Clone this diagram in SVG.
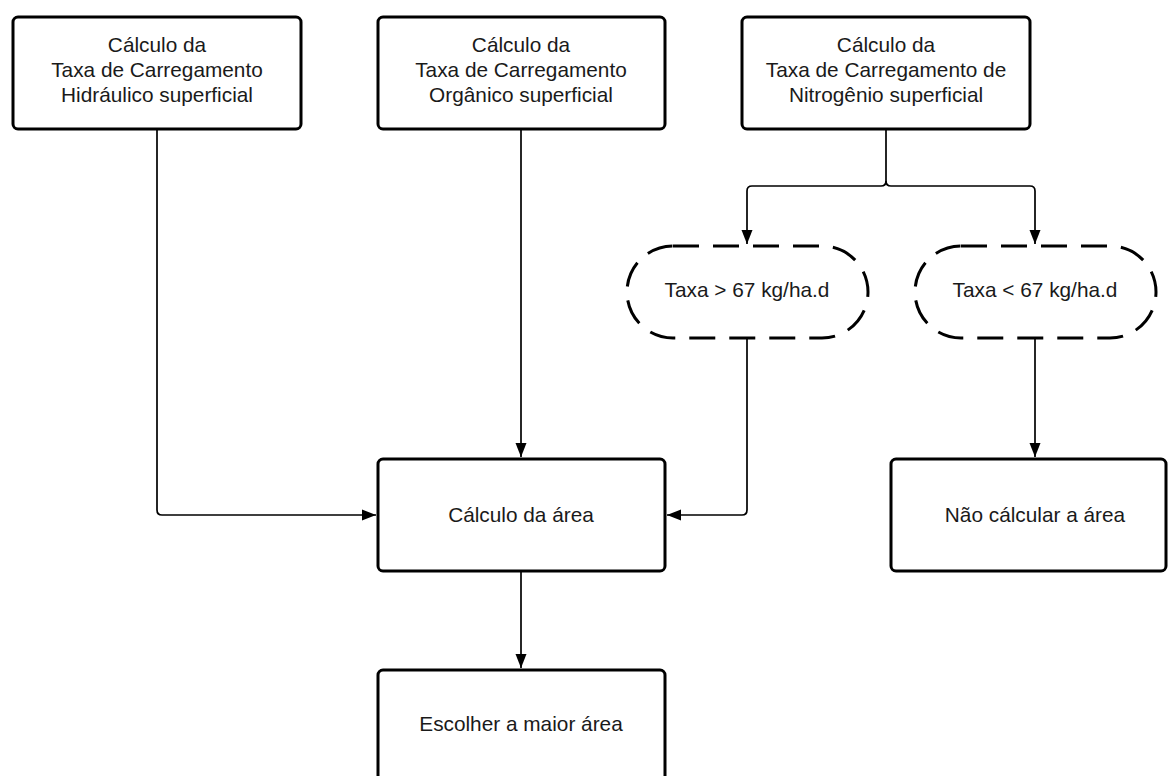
<svg xmlns="http://www.w3.org/2000/svg" width="1168" height="776" viewBox="0 0 1168 776">
<style>
.box{fill:#fff;stroke:#000;stroke-width:3}
.dash{fill:#fff;stroke:#000;stroke-width:3;stroke-dasharray:26 14}
.t{font-family:"Liberation Sans",Arial,sans-serif;font-size:20.8px;fill:#1a1a1a;text-anchor:middle}
.c{fill:none;stroke:#000;stroke-width:1.7}
</style>
<defs>
<marker id="ah" markerWidth="14" markerHeight="14" viewBox="0 0 14 14" refX="14" refY="7" orient="auto" markerUnits="userSpaceOnUse">
<path d="M0,1.5 L14,7 L0,12.5 Z" fill="#000"/>
</marker>
</defs>
<rect width="1168" height="776" fill="#fff"/>
<g id="connectors">
<path class="c" d="M157,129 V510 Q157,515 162,515 H376" marker-end="url(#ah)"/>
<path class="c" d="M521,129 V457" marker-end="url(#ah)"/>
<path class="c" d="M886,129 V181 Q886,186 881,186 H752 Q747,186 747,191 V244" marker-end="url(#ah)"/>
<path class="c" d="M886,181 Q886,186 891,186 H1030 Q1035,186 1035,191 V244" marker-end="url(#ah)"/>
<path class="c" d="M747,338 V510 Q747,515 742,515 H667" marker-end="url(#ah)"/>
<path class="c" d="M1035,338 V457" marker-end="url(#ah)"/>
<path class="c" d="M521,571 V668" marker-end="url(#ah)"/>
</g>
<g id="n1">
<rect class="box" x="13" y="17" width="288" height="112" rx="5"/>
<text class="t" x="157" y="52">Cálculo da</text>
<text class="t" x="157" y="77">Taxa de Carregamento</text>
<text class="t" x="157" y="102">Hidráulico superficial</text>
</g>
<g id="n2">
<rect class="box" x="378" y="17" width="287" height="112" rx="5"/>
<text class="t" x="521" y="52">Cálculo da</text>
<text class="t" x="521" y="77">Taxa de Carregamento</text>
<text class="t" x="521" y="102">Orgânico superficial</text>
</g>
<g id="n3">
<rect class="box" x="742" y="17" width="288" height="112" rx="5"/>
<text class="t" x="886" y="52">Cálculo da</text>
<text class="t" x="886" y="77">Taxa de Carregamento de</text>
<text class="t" x="886" y="102">Nitrogênio superficial</text>
</g>
<g id="d1">
<rect class="dash" x="627" y="246" width="241" height="92" rx="46"/>
<text class="t" x="747" y="297">Taxa &gt; 67 kg/ha.d</text>
</g>
<g id="d2">
<rect class="dash" x="915" y="246" width="241" height="92" rx="46"/>
<text class="t" x="1035" y="297">Taxa &lt; 67 kg/ha.d</text>
</g>
<g id="n4">
<rect class="box" x="378" y="459" width="287" height="112" rx="5"/>
<text class="t" x="521" y="522">Cálculo da área</text>
</g>
<g id="n5">
<rect class="box" x="891" y="459" width="275" height="112" rx="5"/>
<text class="t" x="1035" y="522">Não cálcular a área</text>
</g>
<g id="n6">
<rect class="box" x="378" y="670" width="287" height="112" rx="5"/>
<text class="t" x="521" y="731">Escolher a maior área</text>
</g>
</svg>
